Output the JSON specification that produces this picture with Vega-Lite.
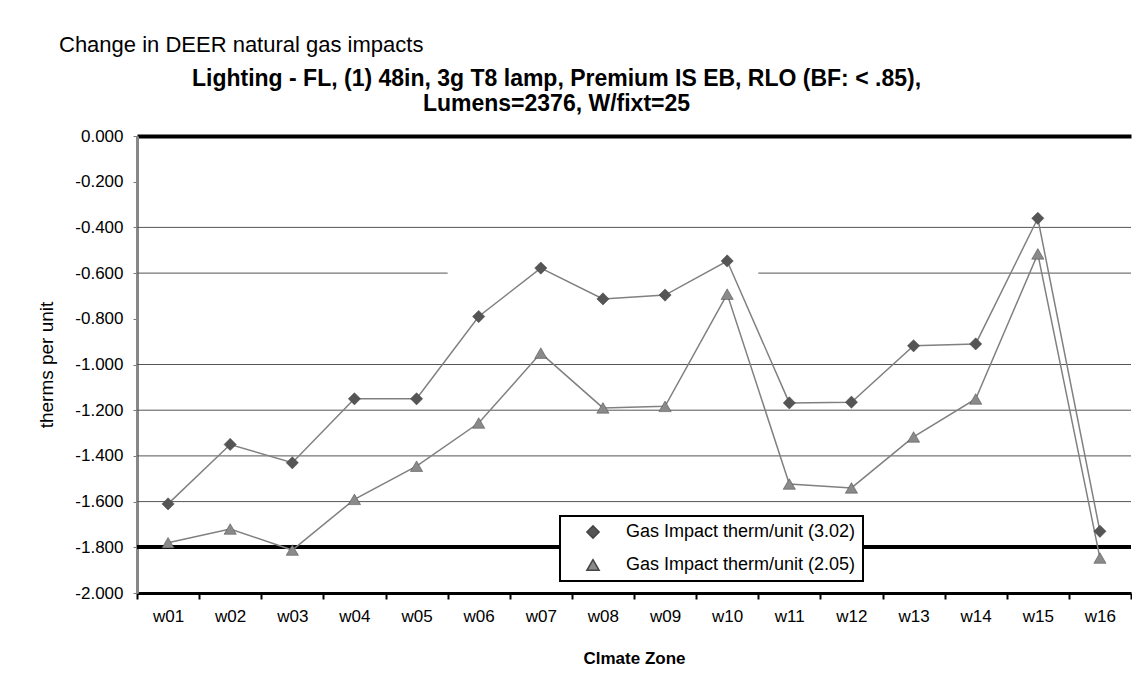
{
  "$schema": "https://vega.github.io/schema/vega-lite/v6.json",
  "width": 994,
  "height": 457,
  "autosize": {"type": "none"},
  "padding": {"left": 137, "top": 136, "right": 1, "bottom": 97},
  "background": "white",
  "config": {
    "font": "Liberation Sans",
    "view": {"stroke": null},
    "legend": {"strokeWidth": 2},
    "axisY": {
      "grid": false,
      "domainColor": "#888888",
      "domainWidth": 3,
      "tickColor": "#777777",
      "tickSize": 4,
      "tickWidth": 1,
      "labelFontSize": 17,
      "labelColor": "black",
      "labelPadding": 10,
      "titleFontSize": 19,
      "titleFontWeight": "normal",
      "titleColor": "black",
      "titlePadding": 18
    }
  },
  "title": {
    "text": "Change in DEER natural gas impacts",
    "anchor": "start",
    "frame": "group",
    "fontSize": 22,
    "fontWeight": "normal",
    "color": "black",
    "dx": -78,
    "offset": 10
  },
  "datasets": {
    "gas": [
      {"zone": "w01", "series": "Gas Impact therm/unit (3.02)", "value": -1.61},
      {"zone": "w02", "series": "Gas Impact therm/unit (3.02)", "value": -1.35},
      {"zone": "w03", "series": "Gas Impact therm/unit (3.02)", "value": -1.43},
      {"zone": "w04", "series": "Gas Impact therm/unit (3.02)", "value": -1.15},
      {"zone": "w05", "series": "Gas Impact therm/unit (3.02)", "value": -1.15},
      {"zone": "w06", "series": "Gas Impact therm/unit (3.02)", "value": -0.79},
      {"zone": "w07", "series": "Gas Impact therm/unit (3.02)", "value": -0.578},
      {"zone": "w08", "series": "Gas Impact therm/unit (3.02)", "value": -0.713},
      {"zone": "w09", "series": "Gas Impact therm/unit (3.02)", "value": -0.696},
      {"zone": "w10", "series": "Gas Impact therm/unit (3.02)", "value": -0.547},
      {"zone": "w11", "series": "Gas Impact therm/unit (3.02)", "value": -1.168},
      {"zone": "w12", "series": "Gas Impact therm/unit (3.02)", "value": -1.165},
      {"zone": "w13", "series": "Gas Impact therm/unit (3.02)", "value": -0.918},
      {"zone": "w14", "series": "Gas Impact therm/unit (3.02)", "value": -0.91},
      {"zone": "w15", "series": "Gas Impact therm/unit (3.02)", "value": -0.36},
      {"zone": "w16", "series": "Gas Impact therm/unit (3.02)", "value": -1.73},
      {"zone": "w01", "series": "Gas Impact therm/unit (2.05)", "value": -1.78},
      {"zone": "w02", "series": "Gas Impact therm/unit (2.05)", "value": -1.72},
      {"zone": "w03", "series": "Gas Impact therm/unit (2.05)", "value": -1.812},
      {"zone": "w04", "series": "Gas Impact therm/unit (2.05)", "value": -1.59},
      {"zone": "w05", "series": "Gas Impact therm/unit (2.05)", "value": -1.445},
      {"zone": "w06", "series": "Gas Impact therm/unit (2.05)", "value": -1.256},
      {"zone": "w07", "series": "Gas Impact therm/unit (2.05)", "value": -0.95},
      {"zone": "w08", "series": "Gas Impact therm/unit (2.05)", "value": -1.19},
      {"zone": "w09", "series": "Gas Impact therm/unit (2.05)", "value": -1.183},
      {"zone": "w10", "series": "Gas Impact therm/unit (2.05)", "value": -0.692},
      {"zone": "w11", "series": "Gas Impact therm/unit (2.05)", "value": -1.523},
      {"zone": "w12", "series": "Gas Impact therm/unit (2.05)", "value": -1.54},
      {"zone": "w13", "series": "Gas Impact therm/unit (2.05)", "value": -1.317},
      {"zone": "w14", "series": "Gas Impact therm/unit (2.05)", "value": -1.151},
      {"zone": "w15", "series": "Gas Impact therm/unit (2.05)", "value": -0.516},
      {"zone": "w16", "series": "Gas Impact therm/unit (2.05)", "value": -1.847}
    ],
    "grid": [
      {"g": -0.4, "a": "w01", "b": "w16"},
      {"g": -0.6, "a": "w01", "b": "w05"},
      {"g": -0.6, "a": "w11", "b": "w16"},
      {"g": -1.0, "a": "w01", "b": "w16"},
      {"g": -1.2, "a": "w01", "b": "w16"},
      {"g": -1.4, "a": "w01", "b": "w16"},
      {"g": -1.6, "a": "w01", "b": "w16"}
    ]
  },
  "resolve": {"scale": {"x": "independent"}, "axis": {"x": "independent"}},
  "layer": [
    {
      "data": {"name": "grid"},
      "mark": {"type": "rule", "color": "#555555", "strokeWidth": 1},
      "encoding": {
        "x": {
          "field": "a",
          "type": "ordinal",
          "bandPosition": 0,
          "scale": {"domain": ["w01","w02","w03","w04","w05","w06","w07","w08","w09","w10","w11","w12","w13","w14","w15","w16"], "paddingInner": 0, "paddingOuter": 0},
          "axis": {
            "orient": "top",
            "labels": false,
            "ticks": false,
            "domain": true,
            "domainColor": "black",
            "domainWidth": 4,
            "title": ["Lighting - FL, (1) 48in, 3g T8 lamp, Premium IS EB, RLO (BF: < .85),", "Lumens=2376, W/fixt=25"],
            "titleFontSize": 23,
            "titleFontWeight": "bold",
            "titleColor": "black",
            "titleLineHeight": 25,
            "titleAlign": "center",
            "titleAnchor": "start",
            "titleBaseline": "alphabetic",
            "titleX": 419,
            "titleY": -51
          }
        },
        "x2": {"field": "b", "bandPosition": 1},
        "y": {
          "field": "g",
          "type": "quantitative",
          "title": "therms per unit",
          "scale": {"domain": [-2, 0], "nice": false},
          "axis": {"values": [0, -0.2, -0.4, -0.6, -0.8, -1.0, -1.2, -1.4, -1.6, -1.8, -2.0], "labelExpr": "replace(format(datum.value, '.3f'), '\u2212', '-')"}
        }
      }
    },
    {
      "data": {"name": "gas"},
      "layer": [
        {
          "mark": {"type": "rule", "color": "black", "strokeWidth": 3},
          "encoding": {"y": {"datum": -1.8}}
        },
        {
          "mark": {"type": "line", "color": "#808080", "strokeWidth": 1.5},
          "encoding": {
            "x": {
              "field": "zone",
              "type": "ordinal",
              "scale": {"domain": ["w01","w02","w03","w04","w05","w06","w07","w08","w09","w10","w11","w12","w13","w14","w15","w16"], "paddingInner": 0, "paddingOuter": 0},
              "axis": {
                "orient": "bottom",
                "title": "Clmate Zone",
                "labelAngle": 0,
                "labelFontSize": 17,
                "labelColor": "black",
                "labelPadding": 9,
                "tickBand": "extent",
                "tickColor": "black",
                "tickSize": 6,
                "tickWidth": 2,
                "domainColor": "black",
                "domainWidth": 3,
                "titleFontSize": 17,
                "titleFontWeight": "bold",
                "titleColor": "black",
                "titlePadding": 26
              }
            },
            "y": {"field": "value", "type": "quantitative", "title": "therms per unit"},
            "detail": {"field": "series"}
          }
        },
        {
          "mark": {"type": "point", "filled": true, "size": 150, "opacity": 1, "stroke": "#444444", "strokeWidth": 0.5},
          "encoding": {
            "x": {"field": "zone", "type": "ordinal"},
            "y": {"field": "value", "type": "quantitative", "title": "therms per unit"},
            "color": {
              "field": "series",
              "type": "nominal",
              "scale": {"domain": ["Gas Impact therm/unit (3.02)", "Gas Impact therm/unit (2.05)"], "range": ["#555555", "#8a8a8a"]},
              "legend": {
                "title": null,
                "orient": "none",
                "legendX": 423,
                "legendY": 380,
                "direction": "vertical",
                "strokeColor": "black",
                "fillColor": "white",
                "padding": 7,
                "labelFontSize": 18,
                "labelColor": "black",
                "labelLimit": 0,
                "rowPadding": 14,
                "symbolSize": 150,
                "symbolOffset": 17,
                "labelOffset": 24
              }
            },
            "shape": {
              "field": "series",
              "type": "nominal",
              "scale": {"domain": ["Gas Impact therm/unit (3.02)", "Gas Impact therm/unit (2.05)"], "range": ["diamond", "triangle-up"]}
            }
          }
        }
      ]
    }
  ]
}
